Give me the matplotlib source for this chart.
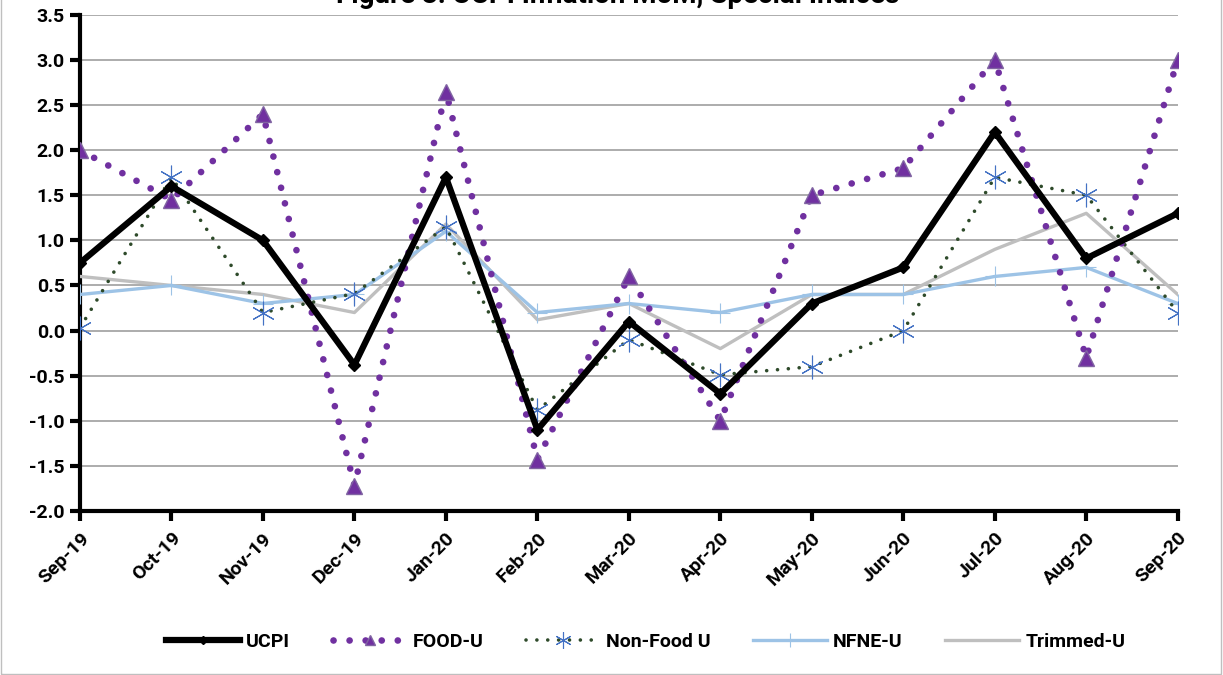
import matplotlib.pyplot as plt
import numpy as np

plt.rcParams['font.family'] = ['Roboto', 'DejaVu Sans']

# data
months = ['Sep-19', 'Oct-19', 'Nov-19', 'Dec-19', 'Jan-20', 'Feb-20', 'Mar-20',
          'Apr-20', 'May-20', 'Jun-20', 'Jul-20', 'Aug-20', 'Sep-20']
ucpi = [0.75, 1.6, 1.0, -0.38, 1.7, -1.1, 0.1, -0.7, 0.3, 0.7, 2.2, 0.8, 1.3]
food_u = [2.0, 1.45, 2.4, -1.72, 2.65, -1.43, 0.6, -1.0, 1.5, 1.8, 3.0, -0.3, 3.0]
non_food_u = [0.03, 1.7, 0.2, 0.41, 1.15, -0.88, -0.1, -0.49, -0.4, 0.0, 1.7, 1.5, 0.2]
nfne_u = [0.4, 0.5, 0.3, 0.4, 1.1, 0.2, 0.3, 0.2, 0.4, 0.4, 0.6, 0.7, 0.3]
trimmed_u = [0.6, 0.5, 0.4, 0.2, 1.18, 0.12, 0.3, -0.2, 0.4, 0.4, 0.9, 1.3, 0.4]

fig = plt.figure(figsize=(12.23, 6.75), dpi=100)
ax = fig.add_axes([0.0654, 0.243, 0.8976, 0.735])

x = np.arange(len(months))

ax.plot(x, trimmed_u, color='#BFBFBF', lw=2.4, label='Trimmed-U', zorder=3)
ax.plot(x, nfne_u, color='#9DC3E6', lw=2.4, marker='+', ms=14, mew=0.8,
        mec='#9DC3E6', label='NFNE-U', zorder=4)
ax.plot(x, non_food_u, color='#2E4A2A', lw=2.6, ls=(0, (0.01, 3.0)),
        dash_capstyle='round', marker=(6, 2, 0), ms=17, mew=0.8, mec='#4472C4',
        label='Non-Food U', zorder=5)
ax.plot(x, food_u, color='#7030A0', lw=4.8, ls=(0, (0.01, 2.4)),
        dash_capstyle='round', marker='^', ms=11, mfc='#7030A0', mec='#8064A2',
        label='FOOD-U', zorder=6)
ax.plot(x, ucpi, color='black', lw=4.5, marker='D', ms=6, label='UCPI', zorder=7)

ax.set_xlim(0, len(months) - 1)
ax.set_ylim(-2.0, 3.5)
ax.set_yticks(np.arange(-2.0, 3.51, 0.5))
ax.set_yticklabels([f'{v:.1f}' for v in np.arange(-2.0, 3.51, 0.5)],
                   fontsize=14, fontweight='bold')
ax.set_xticks(x)
ax.set_xticklabels(months, rotation=45, ha='right', rotation_mode='anchor',
                   fontsize=14, fontweight='bold')
ax.grid(axis='y', color='#A6A6A6', lw=1.3)
ax.set_axisbelow(True)
for s in ['top', 'right']:
    ax.spines[s].set_visible(False)
for s in ['left', 'bottom']:
    ax.spines[s].set_linewidth(3)
ax.tick_params(axis='both', direction='out', width=3, length=7, pad=4)
ax.tick_params(axis='x', pad=6)

handles, labels = ax.get_legend_handles_labels()
order = [4, 3, 2, 1, 0]
fig.legend([handles[i] for i in order], [labels[i] for i in order],
           loc='center', bbox_to_anchor=(0.528, 0.049), ncol=5, frameon=False,
           prop={'size': 14, 'weight': 'bold'}, handlelength=3.8, markerscale=0.7,
           columnspacing=2.2, handletextpad=0.3)

fig.text(0.505, 1.007, 'Figure 3: UCPI Inflation MoM, Special Indices',
         ha='center', va='center', fontsize=20, fontweight='bold')

fig.patches.append(plt.Rectangle((0.001, 0.001), 0.997, 1.2, transform=fig.transFigure,
                                 fill=False, ec='#BFBFBF', lw=1))

fig.savefig('out.png', dpi=100)
